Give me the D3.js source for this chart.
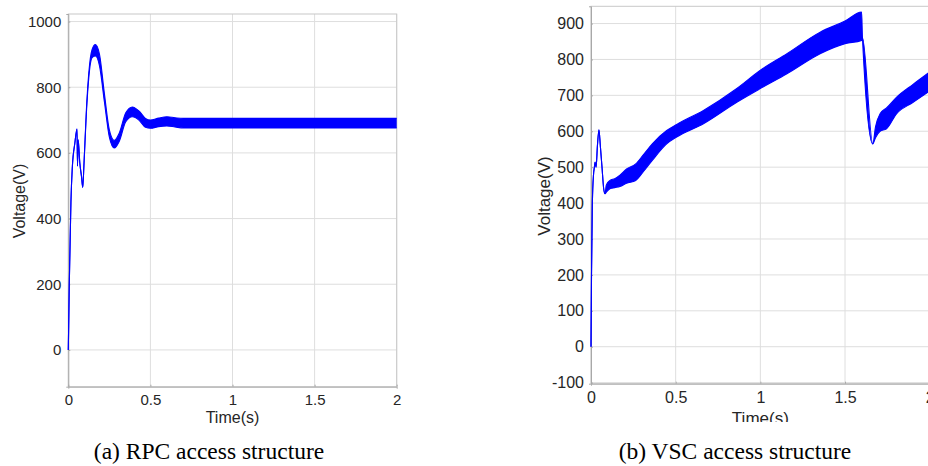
<!DOCTYPE html>
<html>
<head>
<meta charset="utf-8">
<script src="https://cdn.jsdelivr.net/npm/d3@7"></script>
<style>
  body { margin: 0; background: #fff; }
  svg { display: block; }
</style>
</head>
<body>
<div id="container"></div>
<script>
// (a) RPC access structure: time, upper and lower edge of the ripple band
let rpcTime  = [0, 0.006, 0.01, 0.016, 0.025, 0.04, 0.053, 0.056, 0.06, 0.07, 0.08, 0.088, 0.095, 0.11, 0.125, 0.145, 0.165, 0.19, 0.22, 0.25, 0.28, 0.31, 0.35, 0.39, 0.43, 0.47, 0.5, 0.55, 0.6, 0.65, 0.7, 1.0, 1.5, 2.0];
let rpcUpper = [0, 200, 300, 450, 560, 630, 673, 560, 640, 570, 530, 495, 560, 730, 845, 915, 930, 900, 780, 670, 638, 660, 722, 740, 728, 705, 700, 706, 710, 707, 705, 705, 705, 705];
let rpcLower = [0, 200, 300, 450, 560, 630, 673, 560, 640, 570, 530, 495, 560, 720, 830, 890, 895, 865, 755, 648, 615, 635, 695, 710, 700, 678, 675, 680, 682, 679, 676, 676, 676, 676];

// (b) VSC access structure
let vscTime  = [0, 0.003, 0.008, 0.015, 0.02, 0.024, 0.03, 0.038, 0.047, 0.055, 0.065, 0.075, 0.083, 0.09, 0.112, 0.14, 0.171, 0.21, 0.264, 0.31, 0.362, 0.447, 0.506, 0.664, 0.861, 1.0, 1.157, 1.353, 1.5, 1.598, 1.603, 1.664, 1.68, 1.707, 1.745, 1.805, 1.9, 2.0];
let vscUpper = [0, 200, 400, 480, 500, 514, 500, 560, 604, 560, 500, 440, 426, 450, 463, 468, 478, 495, 509, 535, 565, 602, 619, 658, 719, 770, 816, 876, 907, 932, 860, 565, 612, 649, 665, 695, 730, 765];
let vscLower = [0, 200, 400, 480, 500, 514, 500, 560, 604, 560, 500, 440, 426, 430, 440, 443, 446, 455, 463, 488, 519, 565, 584, 621, 681, 719, 760, 816, 844, 853, 860, 565, 582, 600, 607, 649, 680, 712];

let timeTicks = [0, 0.5, 1, 1.5, 2];
let rpcTicks = [0, 200, 400, 600, 800, 1000];
let vscTicks = [-100, 0, 100, 200, 300, 400, 500, 600, 700, 800, 900];

let svg = d3.select("#container")
  .append("svg")
    .attr("width", 928)
    .attr("height", 466)
    .attr("font-family", "Liberation Sans, Arial, sans-serif")
  ;

function drawPanel(p){
  let x = d3.scaleLinear().domain([0, 2]).range([p.left, p.right]);
  let y = d3.scaleLinear().domain(p.yDomain).range([p.bottom, p.top]);

  let g = svg.append("g").attr("clip-path", "url(#" + p.id + ")");
  svg.append("clipPath").attr("id", p.id)
    .append("rect")
      .attr("x", p.clipX0).attr("y", 0)
      .attr("width", p.clipX1 - p.clipX0).attr("height", p.clipBottom);

  // grid
  g.append("g").selectAll("line").data(p.xTicks).enter()
    .append("line")
      .attr("x1", d => x(d)).attr("x2", d => x(d))
      .attr("y1", p.top).attr("y2", p.bottom)
      .attr("stroke", "#dedede").attr("stroke-width", 1);
  g.append("g").selectAll("line").data(p.yTicks).enter()
    .append("line")
      .attr("x1", p.left).attr("x2", p.right)
      .attr("y1", d => y(d)).attr("y2", d => y(d))
      .attr("stroke", "#dedede").attr("stroke-width", 1);

  // frame
  g.append("rect")
    .attr("x", p.left).attr("y", p.top)
    .attr("width", p.right - p.left).attr("height", p.bottom - p.top)
    .attr("fill", "none").attr("stroke", "#c8c8c8");

  // axes (tick labels only)
  let xAxis = g.append("g")
    .attr("transform", "translate(0," + p.bottom + ")")
    .call(d3.axisBottom(x).tickValues(p.xTicks).tickSize(2).tickPadding(6).tickFormat(d => String(d)));
  let yAxis = g.append("g")
    .attr("transform", "translate(" + p.left + ",0)")
    .call(d3.axisLeft(y).tickValues(p.yTicks).tickSize(2).tickPadding(5).tickFormat(d => String(d)));
  [xAxis, yAxis].forEach(a => {
    a.select(".domain").attr("stroke", "#a8a8a8");
    a.selectAll(".tick line").attr("stroke", "#a8a8a8")
      .attr("transform", a === xAxis ? "scale(1,-1)" : "scale(-1,1)");
    a.selectAll("text").attr("fill", "#262626")
      .attr("font-family", "Liberation Sans, Arial, sans-serif")
      .attr("font-size", p.tickSize);
  });

  // signal band
  let pts = p.time.map((t, i) => ({t: t, hi: p.upper[i], lo: p.lower[i]}));
  let area = d3.area().x(d => x(d.t)).y0(d => y(d.lo)).y1(d => y(d.hi)).curve(d3.curveMonotoneX);
  let lineHi = d3.line().x(d => x(d.t)).y(d => y(d.hi)).curve(d3.curveMonotoneX);
  let lineLo = d3.line().x(d => x(d.t)).y(d => y(d.lo)).curve(d3.curveMonotoneX);
  g.append("path").datum(pts).attr("d", area).attr("fill", "#0000ff");
  g.append("path").datum(pts).attr("d", lineHi).attr("fill", "none").attr("stroke", "#0000ff").attr("stroke-width", 1.1);
  g.append("path").datum(pts).attr("d", lineLo).attr("fill", "none").attr("stroke", "#0000ff").attr("stroke-width", 1.1);

  // axis titles
  g.append("text")
    .attr("x", (p.left + p.right) / 2).attr("y", p.xTitleY)
    .attr("text-anchor", "middle").attr("font-size", p.titleSize).attr("fill", "#262626")
    .text("Time(s)");
  g.append("text")
    .attr("transform", "translate(" + p.yTitleX + "," + p.yTitleY + ") rotate(-90)")
    .attr("text-anchor", "middle").attr("font-size", p.titleSize).attr("fill", "#262626")
    .text("Voltage(V)");

  // caption
  svg.append("text")
    .attr("x", p.capX).attr("y", 459)
    .attr("text-anchor", "middle")
    .attr("font-family", "Liberation Serif, Times New Roman, serif")
    .attr("font-size", 23.5).attr("fill", "#000")
    .text(p.caption);
}

drawPanel({
  id: "clipA", time: rpcTime, upper: rpcUpper, lower: rpcLower,
  left: 68.3, right: 396.7, top: 14, bottom: 386.7, yDomain: [-112, 1023],
  xTicks: timeTicks, yTicks: rpcTicks, tickSize: 15, titleSize: 16,
  xTitleY: 423, yTitleX: 24.5, yTitleY: 201,
  clipX0: 0, clipX1: 470, clipBottom: 440,
  capX: 209, caption: "(a) RPC access structure"
});

drawPanel({
  id: "clipB", time: vscTime, upper: vscUpper, lower: vscLower,
  left: 591, right: 929.7, top: 6.3, bottom: 383.7, yDomain: [-103, 948],
  xTicks: timeTicks, yTicks: vscTicks, tickSize: 16, titleSize: 17,
  xTitleY: 424, yTitleX: 549.5, yTitleY: 196,
  clipX0: 470, clipX1: 928, clipBottom: 422,
  capX: 735, caption: "(b) VSC access structure"
});
</script>
</body>
</html>
